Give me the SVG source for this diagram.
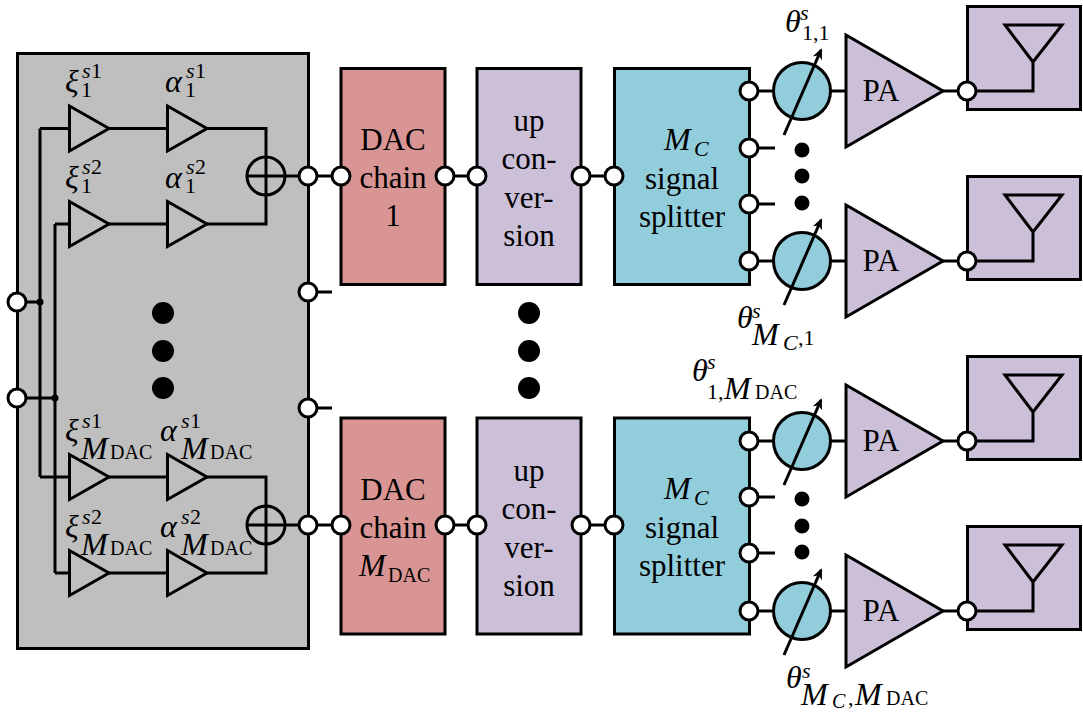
<svg xmlns="http://www.w3.org/2000/svg" xmlns:xlink="http://www.w3.org/1999/xlink" width="1083" height="713" viewBox="0 0 1083 713">
<style>
.b{stroke:#000;stroke-width:3;stroke-linejoin:miter}
.l{fill:none;stroke:#000;stroke-width:3}
.g{fill:#bfbfbf}.r{fill:#d99594}.p{fill:#ccc0d9}.t{fill:#92cddc}
.port{fill:#fff;stroke:#000;stroke-width:3}
.dot{fill:#000}
text{font-family:"Liberation Serif",serif;fill:#000}
.m{font-size:31px;text-anchor:middle}
.i{font-style:italic;font-size:32px}
.s{font-size:22px}
.si{font-size:22px;font-style:italic}
.d{font-size:20px}
</style>
<defs>
<marker id="ah" markerWidth="13" markerHeight="12" refX="9" refY="6" orient="auto" markerUnits="userSpaceOnUse"><path d="M0 1L11 6L0 11L3 6Z" fill="#000"/></marker>
<path id="amp" d="M69.5 106L109 128.500L69.500 151Z" fill="none" stroke="#000" stroke-width="3"/>
</defs>
<g id="baseband">
<rect class="b g" x="17.500" y="53.500" width="291" height="595"/>
</g>
<g id="connectors">
<path class="l" d="M17 302H40M40 128.500V477M17 398H55M55 224V573"/>
<path class="l" d="M40 128.500H69M109 128.500H167M207 128.500H266V224H207M109 224H167M55 224H69"/>
<path class="l" d="M40 477H69M109 477H167M207 477H266V573H207M109 573H167M55 573H69"/>
<path class="l" d="M247 176H341M247 525H341M308 292H332M308 408H332"/>
<path class="l" d="M445 176H477M581 176H614M445 525H477M581 525H614"/>
<path class="l" d="M749 91H773M749 261H773M749 441H773M749 611H773M749 148H775M749 204H775M749 497H775M749 553H775"/>
<path class="l" d="M831 91H846M831 261H846M831 441H846M831 611H846"/>
<path class="l" d="M943 91H967M943 261H967M943 441H967M943 611H967"/>
<circle class="dot" cx="40" cy="302" r="3.500"/>
<circle class="dot" cx="55" cy="398" r="3.500"/>
</g>
<g id="amp-1-1"><use xlink:href="#amp" href="#amp"/><text class="i" x="65" y="92">ξ</text><text class="si" x="82" y="78">s</text><text class="s" x="91" y="78">1</text><text class="s" x="81" y="97">1</text></g>
<g id="amp-1-2"><use href="#amp" x="98"/><text class="i" x="165" y="92">α</text><text class="si" x="186" y="78">s</text><text class="s" x="195" y="78">1</text><text class="s" x="185" y="97">1</text></g>
<g id="amp-2-1"><use href="#amp" y="95.500"/><text class="i" x="65" y="188">ξ</text><text class="si" x="82" y="174">s</text><text class="s" x="91" y="174">2</text><text class="s" x="81" y="193">1</text></g>
<g id="amp-2-2"><use href="#amp" x="98" y="95.500"/><text class="i" x="165" y="188">α</text><text class="si" x="186" y="174">s</text><text class="s" x="195" y="174">2</text><text class="s" x="185" y="193">1</text></g>
<g id="amp-3-1"><use href="#amp" y="348.500"/><text class="i" x="65" y="441">ξ</text><text class="si" x="82" y="428">s</text><text class="s" x="91" y="428">1</text><text class="i" x="81" y="459">M</text><text class="d" x="110" y="459">DAC</text></g>
<g id="amp-3-2"><use href="#amp" x="98" y="348.500"/><text class="i" x="160" y="441">α</text><text class="si" x="181" y="428">s</text><text class="s" x="190" y="428">1</text><text class="i" x="181" y="459">M</text><text class="d" x="210" y="459">DAC</text></g>
<g id="amp-4-1"><use href="#amp" y="444.500"/><text class="i" x="65" y="537">ξ</text><text class="si" x="82" y="524">s</text><text class="s" x="91" y="524">2</text><text class="i" x="81" y="555">M</text><text class="d" x="110" y="555">DAC</text></g>
<g id="amp-4-2"><use href="#amp" x="98" y="444.500"/><text class="i" x="160" y="537">α</text><text class="si" x="181" y="524">s</text><text class="s" x="190" y="524">2</text><text class="i" x="181" y="555">M</text><text class="d" x="210" y="555">DAC</text></g>
<g id="sum-1"><circle class="l" cx="266" cy="176" r="19"/></g>
<g id="sum-2"><circle class="l" cx="266" cy="525" r="19"/></g>
<g id="dots-left"><circle class="dot" cx="163" cy="313" r="11"/><circle class="dot" cx="163" cy="351" r="11"/><circle class="dot" cx="163" cy="388" r="11"/></g>
<g id="dots-mid"><circle class="dot" cx="529" cy="313" r="11"/><circle class="dot" cx="529" cy="351" r="11"/><circle class="dot" cx="529" cy="388" r="11"/></g>
<g id="dac-1"><rect class="b r" x="341" y="68.500" width="104" height="216"/><text class="m" x="393" y="150">DAC</text><text class="m" x="393" y="188">chain</text><text class="m" x="393" y="226">1</text></g>
<g id="dac-2"><rect class="b r" x="341" y="418" width="104" height="216"/><text class="m" x="393" y="500">DAC</text><text class="m" x="393" y="538">chain</text><text class="i" x="359" y="576">M</text><text class="d" x="388" y="582">DAC</text></g>
<g id="up-1"><rect class="b p" x="477" y="68.500" width="104" height="216"/><text class="m" x="529" y="131">up</text><text class="m" x="529" y="169">con-</text><text class="m" x="529" y="208">ver-</text><text class="m" x="529" y="246">sion</text></g>
<g id="up-2"><rect class="b p" x="477" y="418" width="104" height="216"/><text class="m" x="529" y="481">up</text><text class="m" x="529" y="519">con-</text><text class="m" x="529" y="558">ver-</text><text class="m" x="529" y="596">sion</text></g>
<g id="split-1"><rect class="b t" x="614.500" y="68.500" width="135" height="216"/><text class="i" x="664" y="150">M</text><text class="si" x="694" y="156">C</text><text class="m" x="682" y="189">signal</text><text class="m" x="682" y="227">splitter</text></g>
<g id="split-2"><rect class="b t" x="614.500" y="418" width="135" height="216"/><text class="i" x="664" y="499">M</text><text class="si" x="694" y="505">C</text><text class="m" x="682" y="538">signal</text><text class="m" x="682" y="576">splitter</text></g>
<g id="phase-1"><circle class="b t" cx="802" cy="91" r="28.500"/><path class="l" d="M784 135L821 50" marker-end="url(#ah)"/><text class="i" x="785" y="32">θ</text><text class="si" x="800" y="20">s</text><text class="s" x="802" y="40">1,1</text></g>
<g id="phase-2"><circle class="b t" cx="802" cy="261" r="28.500"/><path class="l" d="M784 305L821 220" marker-end="url(#ah)"/><text class="i" x="737" y="328">θ</text><text class="si" x="752" y="318">s</text><text class="i" x="752" y="345">M</text><text class="si" x="783" y="350">C</text><text class="s" x="798" y="345">,1</text></g>
<g id="phase-3"><circle class="b t" cx="802" cy="441" r="28.500"/><path class="l" d="M784 485L821 400" marker-end="url(#ah)"/><text class="i" x="692" y="381">θ</text><text class="si" x="707" y="369">s</text><text class="s" x="707" y="399">1,</text><text class="i" x="724" y="399">M</text><text class="d" x="755" y="399">DAC</text></g>
<g id="phase-4"><circle class="b t" cx="802" cy="611" r="28.500"/><path class="l" d="M784 655L821 570" marker-end="url(#ah)"/><text class="i" x="786" y="688">θ</text><text class="si" x="802" y="678">s</text><text class="i" x="801" y="705">M</text><text class="si" x="832" y="708" style="font-size:20px">C</text><text class="s" x="848" y="705">,</text><text class="i" x="855" y="705">M</text><text class="d" x="886" y="705">DAC</text></g>
<g id="dots-r1"><circle class="dot" cx="802" cy="150" r="7.500"/><circle class="dot" cx="802" cy="176" r="7.500"/><circle class="dot" cx="802" cy="203" r="7.500"/></g>
<g id="dots-r2"><circle class="dot" cx="802" cy="499" r="7.500"/><circle class="dot" cx="802" cy="526" r="7.500"/><circle class="dot" cx="802" cy="552" r="7.500"/></g>
<g id="pa-1"><path class="b p" d="M846 35L943 91L846 147Z"/><text class="m" x="881" y="101">PA</text></g>
<g id="pa-2"><path class="b p" d="M846 205L943 261L846 317Z"/><text class="m" x="881" y="271">PA</text></g>
<g id="pa-3"><path class="b p" d="M846 385L943 441L846 497Z"/><text class="m" x="881" y="451">PA</text></g>
<g id="pa-4"><path class="b p" d="M846 555L943 611L846 667Z"/><text class="m" x="881" y="621">PA</text></g>
<g id="ant-1"><rect class="b p" x="967.500" y="6.500" width="113" height="103"/><path class="l" d="M967 91H1033V62M1033 62L1005 25H1062Z"/></g>
<g id="ant-2"><rect class="b p" x="967.500" y="176.500" width="113" height="103"/><path class="l" d="M967 261H1033V232M1033 232L1005 195H1062Z"/></g>
<g id="ant-3"><rect class="b p" x="967.500" y="356.500" width="113" height="103"/><path class="l" d="M967 441H1033V412M1033 412L1005 375H1062Z"/></g>
<g id="ant-4"><rect class="b p" x="967.500" y="526.500" width="113" height="103"/><path class="l" d="M967 611H1033V582M1033 582L1005 545H1062Z"/></g>
<g id="ports">
<circle class="port" cx="17" cy="302" r="9"/><circle class="port" cx="17" cy="398" r="9"/>
<circle class="port" cx="308" cy="176" r="9"/><circle class="port" cx="308" cy="292" r="9"/><circle class="port" cx="308" cy="408" r="9"/><circle class="port" cx="308" cy="525" r="9"/>
<circle class="port" cx="341" cy="176" r="9"/><circle class="port" cx="445" cy="176" r="9"/><circle class="port" cx="477" cy="176" r="9"/><circle class="port" cx="581" cy="176" r="9"/><circle class="port" cx="614" cy="176" r="9"/>
<circle class="port" cx="341" cy="525" r="9"/><circle class="port" cx="445" cy="525" r="9"/><circle class="port" cx="477" cy="525" r="9"/><circle class="port" cx="581" cy="525" r="9"/><circle class="port" cx="614" cy="525" r="9"/>
<circle class="port" cx="749" cy="91" r="9"/><circle class="port" cx="749" cy="148" r="9"/><circle class="port" cx="749" cy="204" r="9"/><circle class="port" cx="749" cy="261" r="9"/>
<circle class="port" cx="749" cy="441" r="9"/><circle class="port" cx="749" cy="497" r="9"/><circle class="port" cx="749" cy="553" r="9"/><circle class="port" cx="749" cy="611" r="9"/>
<circle class="port" cx="967" cy="91" r="9"/><circle class="port" cx="967" cy="261" r="9"/><circle class="port" cx="967" cy="441" r="9"/><circle class="port" cx="967" cy="611" r="9"/>
</g>
</svg>
